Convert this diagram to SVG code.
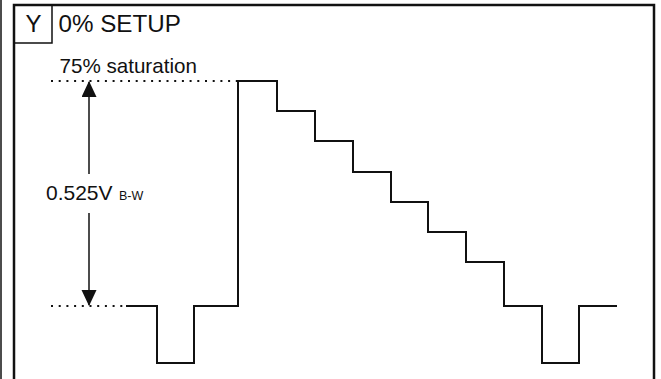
<svg xmlns="http://www.w3.org/2000/svg" width="661" height="379" viewBox="0 0 661 379">
<style>
.frame{fill:none;stroke:#111;stroke-width:2.5}
.thin{fill:none;stroke:#111;stroke-width:1.5}
.sig{fill:none;stroke:#111;stroke-width:2;stroke-linejoin:miter}
.dot{fill:none;stroke:#111;stroke-width:2;stroke-dasharray:2 5.7}
.t{font-family:"Liberation Sans",Arial,sans-serif;fill:#111}
</style>
<defs>
<marker id="ah" markerWidth="16" markerHeight="17" refX="15" refY="7.5" orient="auto" markerUnits="userSpaceOnUse">
<path d="M0,0 L16,7.5 L0,15 Z" fill="#111"/>
</marker>
</defs>
<rect width="661" height="379" fill="#fff"/>
<g id="frame">
<line class="thin" x1="1" y1="0" x2="1" y2="379"/>
<path class="frame" d="M14,379 V5 H654 V379"/>
</g>
<g id="title">
<path class="thin" d="M14,43 H52 V5"/>
<text class="t" x="33.5" y="31.5" font-size="24" text-anchor="middle">Y</text>
<text class="t" x="58.5" y="31.5" font-size="24.2">0% SETUP</text>
</g>
<g id="labels">
<text class="t" x="59.5" y="72.5" font-size="20.6">75% saturation</text>
<text class="t" x="46" y="200" font-size="21">0.525V</text>
<text class="t" x="119" y="199.5" font-size="12.5">B-W</text>
</g>
<g id="connectors">
<line class="dot" x1="51" y1="81" x2="238" y2="81"/>
<line class="dot" x1="51" y1="306" x2="126" y2="306"/>
<line class="thin" x1="89" y1="174" x2="89" y2="82" marker-end="url(#ah)"/>
<line class="thin" x1="89" y1="213" x2="89" y2="305" marker-end="url(#ah)"/>
</g>
<g id="signal">
<path class="sig" d="M126,306 H157 V363 H194 V306 H238 V81 H277 V111 H315 V141 H353 V172 H391 V202 H428 V232 H466 V262 H504 V306 H542 V363 H579 V306 H617"/>
</g>
</svg>
